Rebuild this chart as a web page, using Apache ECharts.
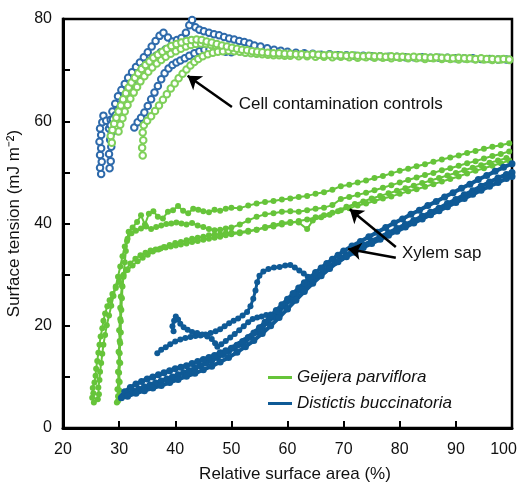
<!DOCTYPE html>
<html>
<head>
<meta charset="utf-8">
<script src="https://cdn.jsdelivr.net/npm/echarts@6/dist/echarts.min.js"></script>
<style>
  html, body { margin: 0; padding: 0; background: #fff; }
  #chart { width: 522px; height: 484px; }
</style>
</head>
<body>
<div id="chart"></div>
<script>
// axis ticks
const xTicks = [20, 30, 40, 50, 60, 70, 80, 90, 100]
const yTicks = [0, 20, 40, 60, 80]

// xylem sap, Geijera parviflora (relative area %, surface tension)
const sapGreenA = [[25.5,5.0],[25.2,5.9],[25.4,6.8],[25.3,7.8],[25.6,8.9],[25.8,10.2],[25.9,11.6],[26.1,13.1],[26.3,14.7],[26.5,16.3],[26.7,17.9],[27.0,19.5],[27.2,21.0],[27.5,22.4],[27.9,23.8],[28.3,25.0],[28.8,26.2],[29.4,27.4],[30.0,28.6],[30.7,29.8],[31.5,30.9],[32.4,31.8],[33.3,32.6],[34.2,33.3],[35.1,33.9],[36.0,34.5],[37.0,34.9],[38.0,35.4],[39.0,35.8],[40.0,36.2],[41.0,36.4],[42.0,36.7],[43.0,37.0],[44.0,37.2],[45.0,37.4],[46.0,37.7],[47.0,37.8],[48.0,37.9],[49.0,38.1],[50.0,38.2],[51.5,38.3],[53.0,38.6],[54.5,38.8],[56.0,39.1],[57.5,39.4],[59.0,39.8],[60.5,40.1],[62.0,40.5],[63.5,40.8],[65.0,41.2],[66.5,41.6],[68.0,42.1],[69.5,42.6],[71.0,43.0],[72.5,43.5],[74.0,43.9],[75.5,44.4],[77.0,44.9],[78.5,45.3],[80.0,45.8],[81.5,46.3],[83.0,46.7],[84.5,47.2],[86.0,47.7],[87.5,48.2],[89.0,48.7],[90.5,49.2],[92.0,49.8],[93.5,50.3],[95.0,50.8],[96.5,51.3],[98.0,51.8],[99.5,52.3]]
const sapGreenB = [[29.8,5.3],[30.1,6.1],[30.0,7.4],[30.1,9.0],[30.0,10.8],[30.2,12.7],[30.1,14.6],[30.2,16.6],[30.3,18.7],[30.3,20.9],[30.4,23.1],[30.5,25.4],[30.6,27.7],[30.8,30.0],[31.0,32.4],[31.2,34.6],[31.4,36.6],[31.7,38.4],[32.4,39.2],[33.2,40.3],[33.9,41.6],[34.6,39.8],[35.3,41.9],[36.1,42.4],[36.9,41.3],[37.8,41.0],[38.7,42.3],[39.6,42.6],[40.5,43.4],[41.4,42.5],[42.3,42.0],[43.2,42.9],[44.1,42.7],[45.0,42.4],[46.0,42.2],[47.0,42.7],[48.0,42.5],[49.0,42.9],[50.0,43.1],[51.5,43.0],[53.0,43.5],[54.5,43.9],[56.0,44.2],[57.5,44.4],[59.0,44.7],[60.5,44.9],[62.0,45.2],[63.5,45.4],[65.0,45.8],[66.5,46.1],[68.0,46.6],[69.5,47.3],[71.0,47.6],[72.5,48.0],[74.0,48.4],[75.5,48.9],[77.0,49.3],[78.5,49.8],[80.0,50.3],[81.5,50.7],[83.0,51.2],[84.5,51.6],[86.0,52.1],[87.5,52.5],[89.0,52.9],[90.5,53.3],[92.0,53.8],[93.5,54.2],[95.0,54.6],[96.5,55.0],[98.0,55.3],[99.5,55.7]]
const sapGreenC = [[26.2,5.6],[26.4,6.6],[26.3,7.9],[26.5,9.4],[26.6,11.0],[26.8,12.7],[27.0,14.5],[27.2,16.3],[27.5,18.2],[27.8,20.1],[28.2,22.0],[28.6,23.9],[29.0,25.8],[29.4,27.7],[29.8,29.6],[30.2,31.6],[30.6,33.6],[31.0,35.5],[31.5,37.0],[32.2,38.1],[33.0,38.6],[33.9,39.0],[34.8,39.4],[35.7,38.9],[36.6,39.3],[37.5,39.6],[38.4,39.9],[39.3,40.0],[40.2,40.2],[41.1,40.0],[42.0,39.8],[43.0,40.1],[44.0,39.6],[45.0,39.3],[46.0,38.9],[47.0,38.7],[48.0,38.8],[49.0,39.0],[50.0,39.2],[51.5,39.8],[53.0,40.6],[54.5,41.3],[56.0,41.8],[57.5,42.0],[59.0,42.3],[60.5,42.4],[62.0,42.3],[63.5,42.6],[65.0,42.9],[66.5,43.1],[68.0,43.6],[69.5,44.8],[71.0,45.2],[72.5,45.6],[74.0,46.0],[75.5,46.5],[77.0,47.0],[78.5,47.5],[80.0,48.0],[81.5,48.5],[83.0,49.0],[84.5,49.5],[86.0,49.9],[87.5,50.4],[89.0,50.8],[90.5,51.3],[92.0,51.8],[93.5,52.2],[95.0,52.7],[96.5,53.2],[98.0,53.6],[99.5,54.1]]
const sapGreenD = [[29.6,5.0],[29.8,6.2],[29.7,7.6],[29.9,9.2],[29.8,11.0],[30.0,12.9],[29.9,14.9],[30.1,17.0],[30.0,19.1],[30.2,21.3],[30.2,23.5],[30.3,25.7],[30.5,27.8],[30.8,29.6],[31.3,31.0],[32.0,32.2],[32.9,33.1],[33.8,33.8],[34.7,34.3],[35.6,34.7],[36.5,34.9],[37.4,35.1],[38.3,35.3],[39.2,35.5],[40.1,35.7],[41.0,35.9],[42.0,36.1],[43.0,36.4],[44.0,36.6],[45.0,36.8],[46.0,37.0],[47.0,37.2],[48.0,37.4],[49.0,37.7],[50.0,37.9],[51.5,38.1],[53.0,38.4],[54.5,38.8],[56.0,39.3],[57.5,39.7],[59.0,40.1],[60.5,40.3],[62.0,40.2],[63.5,38.9],[64.5,40.6],[66.0,41.2],[67.5,41.7],[69.0,42.4],[70.5,43.3],[72.0,43.8],[73.5,44.3],[75.0,44.9],[76.5,45.4],[78.0,45.9],[79.5,46.4],[81.0,46.9],[82.5,47.4],[84.0,47.9],[85.5,48.4],[87.0,48.9],[88.5,49.4],[90.0,49.9],[91.5,50.4],[93.0,50.9],[94.5,51.4],[96.0,51.9],[97.5,52.3],[99.0,52.8]]

// xylem sap, Distictis buccinatoria
const sapBlue1 = [[30.7,6.3],[31.5,6.7],[32.5,7.2],[33.5,7.6],[34.5,8.0],[35.5,8.4],[36.5,8.8],[37.5,9.2],[38.5,9.6],[39.5,10.0],[40.5,10.4],[41.5,10.8],[42.5,11.2],[43.5,11.7],[44.5,12.2],[45.5,12.7],[46.5,13.2],[47.5,13.8],[48.5,14.4],[49.5,15.0],[50.5,15.7],[51.5,16.4],[52.5,17.1],[53.5,17.9],[54.5,18.8],[55.5,19.7],[56.5,20.7],[57.5,21.7],[58.5,22.8],[59.5,23.9],[60.5,25.0],[61.5,26.1],[62.5,27.1],[63.5,28.1],[64.5,29.0],[65.5,29.9],[66.5,30.8],[67.5,31.6],[68.5,32.4],[69.5,33.2],[70.5,33.9],[72.0,34.9],[73.5,35.8],[75.0,36.6],[76.5,37.4],[78.0,38.2],[79.5,39.0],[81.0,39.8],[82.5,40.6],[84.0,41.4],[85.5,42.2],[87.0,43.0],[88.5,43.9],[90.0,44.7],[91.5,45.6],[93.0,46.4],[94.5,47.3],[96.0,48.1],[97.5,48.9],[99.0,49.6],[100,50.0]]
const sapBlue2 = [[31.0,7.1],[32.0,7.9],[33.0,8.6],[34.0,9.1],[35.0,9.6],[36.0,10.0],[37.0,10.4],[38.0,10.8],[39.0,11.2],[40.0,11.6],[41.0,11.9],[42.0,12.2],[43.0,12.6],[44.0,13.0],[45.0,13.4],[46.0,13.8],[47.0,14.2],[48.0,14.7],[49.0,15.1],[50.0,15.6],[51.0,16.2],[52.0,16.9],[53.0,17.7],[54.0,18.6],[55.0,19.6],[56.0,20.7],[57.0,21.9],[58.0,23.0],[59.0,24.1],[60.0,25.2],[61.0,26.3],[62.0,27.4],[63.0,28.4],[64.0,29.4],[65.0,30.4],[66.0,31.3],[67.0,32.2],[68.0,33.0],[69.0,33.8],[70.0,34.6],[71.5,35.6],[73.0,36.5],[74.5,37.4],[76.0,38.3],[77.5,39.2],[79.0,40.1],[80.5,40.9],[82.0,41.8],[83.5,42.6],[85.0,43.5],[86.5,44.3],[88.0,45.2],[89.5,46.0],[91.0,46.9],[92.5,47.7],[94.0,48.6],[95.5,49.4],[97.0,50.2],[98.5,51.0],[100,51.7]]
const sapBlue3 = [[30.4,5.9],[31.5,6.2],[33.0,6.8],[34.5,7.3],[36.0,7.8],[37.5,8.3],[39.0,8.9],[40.5,9.5],[42.0,10.1],[43.5,10.7],[45.0,11.4],[46.5,12.1],[48.0,12.9],[49.5,13.8],[51.0,14.8],[52.5,15.9],[54.0,17.1],[55.5,18.5],[57.0,20.0],[58.5,21.6],[60.0,23.3],[61.5,25.0],[63.0,26.7],[64.5,28.3],[66.0,29.8],[67.5,31.2],[69.0,32.5],[70.5,33.5],[72.0,34.4],[73.5,35.3],[75.0,36.1],[76.5,36.9],[78.0,37.7],[79.5,38.5],[81.0,39.3],[82.5,40.1],[84.0,40.9],[85.5,41.7],[87.0,42.5],[88.5,43.3],[90.0,44.1],[91.5,44.9],[93.0,45.7],[94.5,46.5],[96.0,47.3],[97.5,48.0],[99.0,48.8],[100,49.2]]
const sapBlueLoop1 = [[36.8,14.6],[37.5,15.3],[38.3,15.8],[39.1,16.4],[40.0,16.9],[40.9,17.3],[41.8,17.6],[42.7,17.8],[43.6,18.0],[44.5,18.1],[45.4,18.3],[46.3,18.6],[47.2,18.9],[48.0,19.3],[48.8,19.9],[49.6,20.5],[50.4,21.0],[51.2,21.4],[52.0,22.0],[52.8,22.7],[53.4,23.8],[53.9,25.3],[54.3,26.9],[54.6,28.5],[55.0,29.8],[55.7,30.6],[56.6,31.1],[57.6,31.4],[58.6,31.5],[59.6,31.8],[60.5,31.9],[61.3,31.4],[62.1,30.8],[62.9,30.2],[63.6,29.6]]
const sapBlueLoop2 = [[39.7,18.9],[39.5,19.9],[39.8,21.0],[40.1,21.8],[40.5,21.2],[40.9,20.4],[41.5,19.7],[42.2,19.2],[43.0,18.8],[43.9,18.6],[44.8,18.3],[45.7,17.9],[46.5,17.4],[47.1,16.6],[47.5,15.9],[48.2,16.4],[49.0,17.0],[49.8,17.7],[50.6,18.4],[51.4,19.1],[52.2,19.9],[53.0,20.7],[53.8,21.3],[54.6,21.6],[55.4,21.8],[56.2,22.1],[57.0,22.2]]

// cell contamination controls
const ctrlBlue1 = [[26.8,49.7],[26.6,50.9],[26.9,52.1],[26.6,53.4],[26.8,54.7],[26.5,56.0],[26.8,57.3],[26.6,58.6],[27.0,59.8],[27.2,61.1],[27.7,60.1],[28.2,58.6],[28.5,60.3],[28.8,61.9],[29.3,63.4],[29.8,64.9],[30.4,66.1],[31.0,67.3],[31.6,68.5],[32.3,69.6],[33.0,70.6],[33.7,71.5],[34.4,72.5],[35.1,73.5],[35.8,74.6],[36.5,75.7],[37.2,76.7],[37.9,77.3],[38.7,76.4],[39.5,75.6],[40.3,75.9],[41.1,76.3],[41.9,77.3],[42.5,78.8],[43.0,79.8],[43.6,78.4],[44.3,77.9],[45.1,77.6],[46.0,77.3],[46.9,77.0],[47.8,76.8],[48.7,76.5],[49.6,76.2],[50.5,76.0],[51.4,75.7],[52.3,75.5],[53.2,75.2],[54.1,74.8],[55.2,74.6],[56.4,74.3],[57.6,74.0],[58.8,73.8],[60.0,73.6],[61.5,73.4],[63.0,73.3],[64.5,73.2],[66.0,73.0],[67.5,73.1],[69.0,72.9],[70.5,72.9],[72.0,72.8],[73.5,72.8],[75.0,72.7],[76.5,72.7],[78.0,72.6],[79.5,72.6],[81.0,72.5],[82.5,72.5],[84.0,72.5],[85.5,72.4],[87.0,72.4],[88.5,72.4],[90.0,72.3],[91.5,72.3],[93.0,72.3],[94.5,72.2],[96.0,72.2],[97.5,72.1],[99.0,72.1]]
const ctrlBlue2 = [[28.3,50.8],[28.5,52.2],[28.2,53.6],[28.6,55.0],[28.4,56.4],[28.7,57.8],[28.5,59.2],[28.9,60.4],[29.4,61.2],[30.0,62.4],[30.6,63.7],[31.2,65.0],[31.8,66.2],[32.4,67.4],[33.0,68.5],[33.6,69.5],[34.3,70.5],[35.0,71.3],[35.8,72.1],[36.6,72.8],[37.4,73.5],[38.3,74.1],[39.2,74.6],[40.1,75.0],[41.0,75.3],[41.9,75.6],[42.8,75.8],[43.7,75.6],[44.6,75.3],[45.5,75.0],[46.5,74.7],[47.5,74.5],[48.5,74.3],[49.5,74.1],[50.5,73.9],[51.5,73.7],[52.5,73.5],[53.5,73.4],[54.5,73.3]]
const ctrlBlue3 = [[32.7,58.8],[33.3,59.8],[33.9,60.7],[34.5,61.7],[35.1,63.0],[35.7,64.3],[36.3,65.6],[36.9,66.9],[37.5,68.2],[38.1,69.4],[38.8,70.3],[39.5,71.0],[40.2,71.5],[40.9,71.9],[41.7,72.3],[42.5,72.8],[43.4,73.3],[44.3,73.7],[45.2,74.0],[46.1,74.1],[47.0,73.9],[48.0,73.8],[49.0,73.6],[50.0,73.5]]
const ctrlGreen1 = [[28.7,55.8],[28.5,57.1],[28.8,58.3],[29.1,59.5],[29.5,60.7],[29.9,61.9],[30.3,63.1],[30.7,64.3],[31.2,65.5],[31.7,66.6],[32.2,67.6],[32.8,68.5],[33.4,69.4],[34.0,70.2],[34.7,71.0],[35.4,71.7],[36.1,72.4],[36.9,73.0],[37.7,73.6],[38.5,74.2],[39.3,74.7],[40.2,75.1],[41.1,75.4],[42.0,75.7],[42.9,75.9],[43.8,76.0],[44.7,75.9],[45.6,75.6],[46.5,75.4],[47.4,75.1],[48.3,74.8],[49.2,74.6],[50.1,74.4],[51.0,74.2],[51.9,74.0],[52.8,73.9],[53.7,73.7],[54.6,73.6],[55.5,73.5],[56.5,73.4],[57.5,73.3],[58.5,73.3],[59.5,73.2],[60.5,73.2],[61.5,73.1],[62.5,73.1],[63.5,73.0],[64.5,73.1],[65.5,73.0],[66.5,72.9],[67.5,73.0],[68.5,72.9],[69.5,72.9],[70.5,72.8],[71.5,72.9],[72.5,72.8],[73.5,72.7],[74.5,72.8],[75.5,72.7],[76.5,72.7],[77.5,72.6],[78.5,72.7],[79.5,72.6],[80.5,72.6],[81.5,72.5],[82.5,72.6],[83.5,72.5],[84.5,72.5],[85.5,72.4],[86.5,72.5],[87.5,72.4],[88.5,72.4],[89.5,72.3],[90.5,72.4],[91.5,72.3],[92.5,72.3],[93.5,72.2],[94.5,72.3],[95.5,72.2],[96.5,72.2],[97.5,72.1],[98.5,72.2],[99.5,72.1]]
const ctrlGreen2 = [[34.2,53.3],[34.1,54.8],[34.3,56.3],[34.2,57.8],[34.4,59.2],[35.0,60.1],[35.7,61.0],[36.4,62.0],[37.1,63.1],[37.8,64.2],[38.5,65.3],[39.2,66.4],[39.9,67.4],[40.6,68.4],[41.3,69.3],[42.0,70.1],[42.7,70.9],[43.4,71.6],[44.1,72.2],[44.9,72.7],[45.8,73.1],[46.7,73.4],[47.6,73.6],[48.5,73.7],[49.5,73.8],[50.5,73.7],[51.5,73.6],[52.5,73.4],[53.5,73.3],[54.5,73.2],[55.5,73.1],[56.5,73.0],[57.5,72.9],[58.5,72.9],[59.5,72.8],[60.5,72.8],[62.0,72.7],[63.5,72.7],[65.0,72.6],[66.5,72.6],[68.0,72.5],[69.5,72.6],[71.0,72.5],[72.5,72.4],[74.0,72.5],[75.5,72.4],[77.0,72.4],[78.5,72.3],[80.0,72.4],[81.5,72.3],[83.0,72.3],[84.5,72.2],[86.0,72.3],[87.5,72.2],[89.0,72.2],[90.5,72.1],[92.0,72.2],[93.5,72.1],[95.0,72.1],[96.5,72.0],[98.0,72.1],[99.5,72.0]]
const ctrlGreen3 = [[29.9,58.0],[30.2,59.3],[30.6,60.6],[31.0,61.9],[31.5,63.2],[32.0,64.4],[32.6,65.6],[33.2,66.7],[33.8,67.8],[34.5,68.8],[35.2,69.7],[35.9,70.5],[36.7,71.3],[37.5,72.0],[38.3,72.6],[39.2,73.2],[40.1,73.7],[41.0,74.2],[41.9,74.6],[42.8,74.9],[43.7,75.1],[44.6,75.2],[45.5,75.1],[46.4,74.9],[47.3,74.7],[48.2,74.5]]

// annotation positions in data units
const notes = [
  { text: 'Cell contamination controls', at: [51.3, 63.3] },
  { text: 'Xylem sap', at: [80.4, 34.2] }
]
const arrows = [
  [[50.1, 62.8], [42.2, 68.9]],
  [[79.3, 35.4], [71.1, 42.8]],
  [[79.3, 33.3], [70.8, 35.0]]
]

const GREEN = '#66c43a'
const BLUE = '#0f5a96'
const CTRL_GREEN = '#7fd05a'
const CTRL_BLUE = '#2e6aab'
const FONT = '"Liberation Sans", Arial, sans-serif'

const chart = echarts.init(document.getElementById('chart'))

function sapSeries(name, data, color, size, width) {
  return {
    name: name,
    type: 'line',
    data: data,
    symbol: 'circle',
    symbolSize: size,
    showAllSymbol: true,
    itemStyle: { color: color },
    lineStyle: { color: color, width: width },
    animation: false
  }
}

function ctrlSeries(name, data, color) {
  return {
    name: name,
    type: 'line',
    data: data,
    symbol: 'emptyCircle',
    symbolSize: 6.5,
    showAllSymbol: true,
    itemStyle: { color: color, borderWidth: 1.2 },
    lineStyle: { color: color, width: 1.5 },
    animation: false
  }
}

const series = [
  ctrlSeries('ctrl-b', ctrlBlue1, CTRL_BLUE),
  ctrlSeries('ctrl-b', ctrlBlue2, CTRL_BLUE),
  ctrlSeries('ctrl-b', ctrlBlue3, CTRL_BLUE),
  ctrlSeries('ctrl-g', ctrlGreen3, CTRL_GREEN),
  ctrlSeries('ctrl-g', ctrlGreen2, CTRL_GREEN),
  ctrlSeries('ctrl-g', ctrlGreen1, CTRL_GREEN),
  sapSeries('Geijera parviflora', sapGreenA, GREEN, 6, 2),
  sapSeries('Geijera parviflora', sapGreenB, GREEN, 6, 2),
  sapSeries('Geijera parviflora', sapGreenC, GREEN, 6, 2),
  sapSeries('Geijera parviflora', sapGreenD, GREEN, 6, 2),
  sapSeries('Distictis buccinatoria', sapBlueLoop1, BLUE, 6, 3),
  sapSeries('Distictis buccinatoria', sapBlueLoop2, BLUE, 6, 3),
  sapSeries('Distictis buccinatoria', sapBlue1, BLUE, 7, 4),
  sapSeries('Distictis buccinatoria', sapBlue2, BLUE, 7, 4),
  sapSeries('Distictis buccinatoria', sapBlue3, BLUE, 7, 4)
]

// arrows and labels ride on an empty helper series
series.push({
  name: 'notes',
  type: 'scatter',
  data: [],
  animation: false,
  silent: true,
  markLine: {
    silent: true,
    animation: false,
    symbol: ['none', 'arrow'],
    symbolSize: 13,
    label: { show: false },
    lineStyle: { color: '#000', width: 2.5, type: 'solid' },
    data: arrows.map(a => [{ coord: a[0] }, { coord: a[1] }])
  },
  markPoint: {
    silent: true,
    animation: false,
    symbol: 'circle',
    symbolSize: 0,
    label: {
      show: true,
      position: 'right',
      distance: 0,
      color: '#111',
      fontSize: 17,
      fontFamily: FONT,
      formatter: p => p.name
    },
    data: notes.map(n => ({ name: n.text, coord: n.at }))
  }
})

chart.setOption({
  animation: false,
  backgroundColor: '#fff',
  textStyle: { fontFamily: FONT },
  grid: {
    left: 63,
    top: 19,
    width: 449,
    height: 409,
    outerBoundsMode: 'none',
    show: true,
    borderColor: '#000',
    borderWidth: 2.5
  },
  legend: {
    data: ['Geijera parviflora', 'Distictis buccinatoria'],
    orient: 'vertical',
    left: 263,
    top: 363,
    icon: 'rect',
    itemWidth: 24,
    itemHeight: 3,
    itemGap: 7,
    selectedMode: false,
    textStyle: {
      fontSize: 17,
      fontStyle: 'italic',
      color: '#111',
      fontFamily: FONT,
      lineHeight: 19
    }
  },
  xAxis: {
    type: 'value',
    min: xTicks[0],
    max: xTicks[xTicks.length - 1],
    interval: 10,
    name: 'Relative surface area (%)',
    nameLocation: 'middle',
    nameGap: 38,
    nameTextStyle: { fontSize: 17, color: '#111', fontFamily: FONT, padding: [0, 0, 0, 15] },
    axisLine: { lineStyle: { color: '#000', width: 3 } },
    axisTick: { inside: true, length: 7, lineStyle: { color: '#000', width: 2 } },
    axisLabel: {
      fontSize: 16,
      color: '#111',
      margin: 14,
      fontFamily: FONT,
      formatter: v => (v === xTicks[xTicks.length - 1] ? '{last|' + v + '}' : String(v)),
      rich: { last: { fontSize: 16, color: '#111', fontFamily: FONT, padding: [0, 17, 0, 0] } }
    },
    splitLine: { show: false }
  },
  yAxis: {
    type: 'value',
    min: yTicks[0],
    max: yTicks[yTicks.length - 1],
    interval: 10,
    name: 'Surface tension (mJ m\u207B\u00B2)',
    nameLocation: 'middle',
    nameGap: 33,
    nameTextStyle: { fontSize: 17, color: '#111', fontFamily: FONT },
    axisLine: { lineStyle: { color: '#000', width: 3 } },
    axisTick: { inside: true, length: 7, lineStyle: { color: '#000', width: 2 } },
    axisLabel: {
      fontSize: 16,
      color: '#111',
      margin: 11,
      fontFamily: FONT,
      formatter: v => (yTicks.indexOf(v) !== -1 ? String(v) : '')
    },
    splitLine: { show: false }
  },
  series: series
})
</script>
</body>
</html>
